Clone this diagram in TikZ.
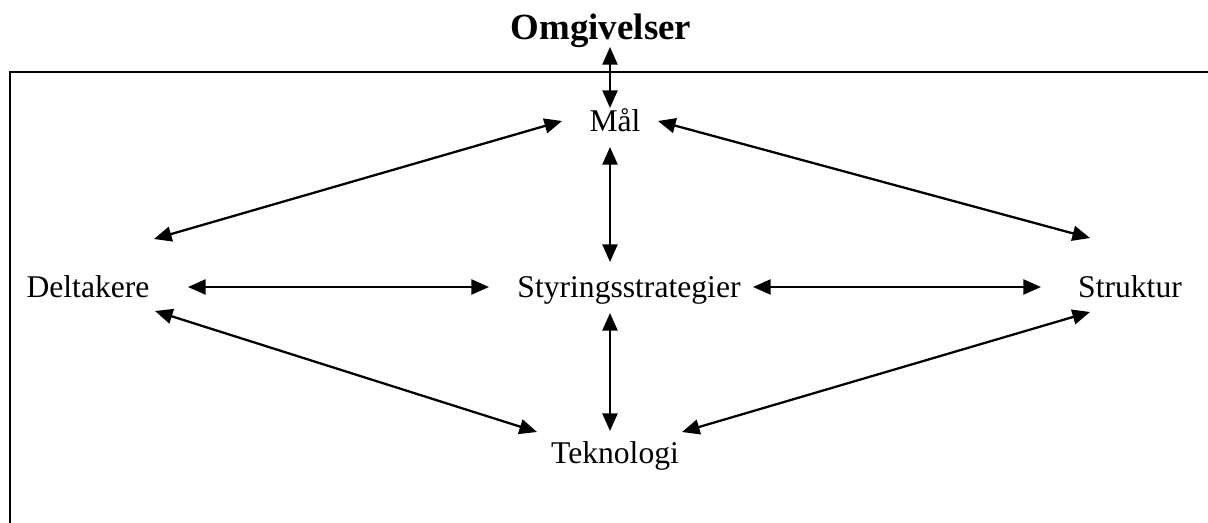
\documentclass[tikz,border=0pt]{standalone}
\usepackage{fontspec}
\setmainfont{Liberation Serif}
\usetikzlibrary{arrows.meta,calc}

\begin{document}
\begin{tikzpicture}[x=0.02cm,y=-0.02cm,
	word/.style={anchor=base,inner sep=0pt,font=\fontsize{18}{21}\selectfont},
	link/.style={line width=1.3pt,{Triangle[length=10pt,width=8.5pt]}-{Triangle[length=10pt,width=8.5pt]}}]
	\useasboundingbox (0,0) rectangle (1208,523);
	\draw[line width=1.6pt] (10,523) -- (10,72) -- (1208,72);
	
	\node[word,font=\fontsize{21}{25}\selectfont\bfseries] (omg) at (601,40) {Omgivelser};
	\node[word] (mal) at (615,132) {Mål};
	\node[word] (delt) at (88,298) {Deltakere};
	\node[word] (styr) at (629,298) {Styringsstrategier};
	\node[word] (strk) at (1130,298) {Struktur};
	\node[word] (tek) at (615,464) {Teknologi};
	
	\draw[link] ($(omg.base)+(9,7)$) -- ($(mal.base)+(-5,-24)$);
	\draw[link] ($(mal.base)+(-53,-11)$) -- ($(delt.base)+(66,-59)$);
	\draw[link] ($(mal.base)+(43,-11)$) -- ($(strk.base)+(-40,-60)$);
	\draw[link] ($(mal.base)+(-5,15)$) -- ($(styr.base)+(-19,-36)$);
	\draw[link] ($(delt.base)+(100,-11)$) -- ($(styr.base)+(-140,-11)$);
	\draw[link] ($(styr.base)+(124,-11)$) -- ($(strk.base)+(-89,-11)$);
	\draw[link] ($(delt.base)+(67,13)$) -- ($(tek.base)+(-78,-32)$);
	\draw[link] ($(strk.base)+(-40,14)$) -- ($(tek.base)+(67,-32)$);
	\draw[link] ($(styr.base)+(-19,15)$) -- ($(tek.base)+(-5,-33)$);
\end{tikzpicture}
\end{document}
